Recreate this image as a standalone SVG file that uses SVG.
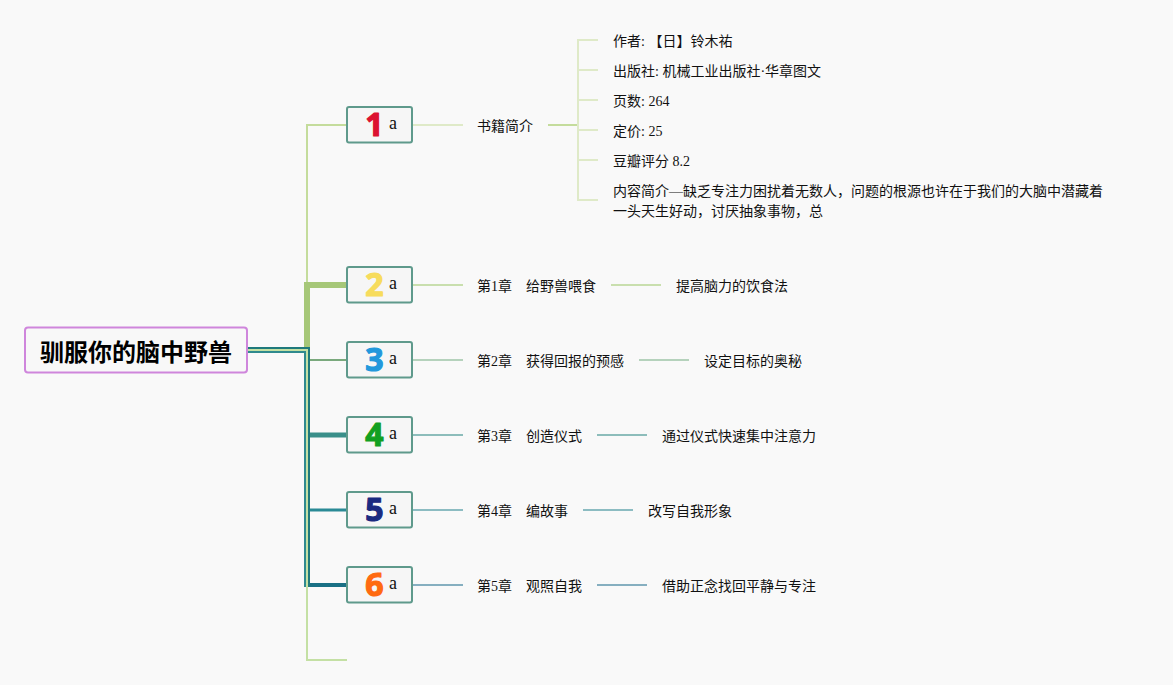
<svg xmlns="http://www.w3.org/2000/svg" width="1173" height="685" viewBox="0 0 1173 685">
<style>
text{font-family:"Liberation Serif","Noto Sans CJK SC",serif;font-size:14px;fill:#111}
.c{fill:none;stroke-linejoin:miter}
.box{fill:#f6f6f6;stroke:#5f9a8c;stroke-width:2}
.n{font-family:"Noto Sans","DejaVu Sans",sans-serif;font-size:32px;font-weight:700;text-anchor:middle;stroke-width:1.2;stroke-linejoin:round}
.a{font-size:18px}
</style>
<rect width="1173" height="685" fill="#f9f9f9"/>
<g id="connectors">
<path class="c" d="M307 349V125H347" stroke="#c4dc9c" stroke-width="2"/>
<path class="c" d="M307 347V285H347" stroke="#a6c778" stroke-width="6"/>
<path class="c" d="M309 360H347" stroke="#7aa97d" stroke-width="2"/>
<path class="c" d="M309 435H347" stroke="#3a8f8a" stroke-width="5"/>
<path class="c" d="M309 510H347" stroke="#2a8a96" stroke-width="3"/>
<path class="c" d="M309 585H347" stroke="#1a7085" stroke-width="4"/>
<path class="c" d="M248 352H305V587" stroke="#2f8a8e" stroke-width="2"/>
<path class="c" d="M248 350H307V660H347" stroke="#c4e0a4" stroke-width="2"/>
<path class="c" d="M248 348H309V587" stroke="#1f7a7c" stroke-width="2"/>
<path class="c" d="M413 125H463" stroke="#dfeac8" stroke-width="2"/>
<path class="c" d="M413 285H463" stroke="#c9dfae" stroke-width="2"/>
<path class="c" d="M413 360H463" stroke="#b5d2bc" stroke-width="2"/>
<path class="c" d="M413 435H463" stroke="#8dbdbb" stroke-width="2"/>
<path class="c" d="M413 510H463" stroke="#8cbcc2" stroke-width="2"/>
<path class="c" d="M413 585H463" stroke="#86afc0" stroke-width="2"/>
<path class="c" d="M548 125H578" stroke="#c4dc9c" stroke-width="2"/>
<path class="c" d="M598 40H578V200H598M578 70H598M578 100H598M578 130H598M578 160H598" stroke="#dfeac8" stroke-width="2"/>
<path class="c" d="M611 285H661" stroke="#c9dfae" stroke-width="2"/>
<path class="c" d="M639 360H689" stroke="#b5d2bc" stroke-width="2"/>
<path class="c" d="M597 435H647" stroke="#8dbdbb" stroke-width="2"/>
<path class="c" d="M583 510H633" stroke="#8cbcc2" stroke-width="2"/>
<path class="c" d="M597 585H647" stroke="#86afc0" stroke-width="2"/>
</g>
<g id="root"><rect x="25" y="327.500" width="222" height="45" rx="3" fill="#f8f8f8" stroke="#cf86dc" stroke-width="2"/><text x="136" y="361" text-anchor="middle" style="font-family:'Noto Sans CJK SC',sans-serif;font-size:24px;font-weight:700;fill:#000">驯服你的脑中野兽</text></g>
<g id="n1"><rect class="box" x="347" y="107" width="65" height="35.500" rx="2"/><text class="n" x="374.500" y="136" style="fill:#dc1230;stroke:#dc1230">1</text><text class="a" x="389" y="129">a</text></g>
<g id="n2"><rect class="box" x="347" y="267" width="65" height="35.500" rx="2"/><text class="n" x="374.500" y="296" style="fill:#f7dc5c;stroke:#f7dc5c">2</text><text class="a" x="389" y="289">a</text></g>
<g id="n3"><rect class="box" x="347" y="342" width="65" height="35.500" rx="2"/><text class="n" x="374.500" y="371" style="fill:#2298dc;stroke:#2298dc">3</text><text class="a" x="389" y="364">a</text></g>
<g id="n4"><rect class="box" x="347" y="417" width="65" height="35.500" rx="2"/><text class="n" x="374.500" y="446" style="fill:#12a020;stroke:#12a020">4</text><text class="a" x="389" y="439">a</text></g>
<g id="n5"><rect class="box" x="347" y="492" width="65" height="35.500" rx="2"/><text class="n" x="374.500" y="521" style="fill:#1a2a80;stroke:#1a2a80">5</text><text class="a" x="389" y="514">a</text></g>
<g id="n6"><rect class="box" x="347" y="567" width="65" height="35.500" rx="2"/><text class="n" x="374.500" y="596" style="fill:#ff6a10;stroke:#ff6a10">6</text><text class="a" x="389" y="589">a</text></g>
<g id="t0"><text x="477" y="131">书籍简介</text></g>
<g id="t1"><text x="613" y="46">作者: 【日】铃木祐</text></g>
<g id="t2"><text x="613" y="76">出版社: 机械工业出版社·华章图文</text></g>
<g id="t3"><text x="613" y="106">页数: 264</text></g>
<g id="t4"><text x="613" y="136">定价: 25</text></g>
<g id="t5"><text x="613" y="166">豆瓣评分 8.2</text></g>
<g id="t6"><text x="613" y="196">内容简介—缺乏专注力困扰着无数人，问题的根源也许在于我们的大脑中潜藏着</text><text x="613" y="216">一头天生好动，讨厌抽象事物，总</text></g>
<g id="c1"><text x="477" y="291">第1章 <tspan x="526">给野兽喂食</tspan></text></g>
<g id="c2"><text x="477" y="366">第2章 <tspan x="526">获得回报的预感</tspan></text></g>
<g id="c3"><text x="477" y="441">第3章 <tspan x="526">创造仪式</tspan></text></g>
<g id="c4"><text x="477" y="516">第4章 <tspan x="526">编故事</tspan></text></g>
<g id="c5"><text x="477" y="591">第5章 <tspan x="526">观照自我</tspan></text></g>
<g id="s1"><text x="676" y="291">提高脑力的饮食法</text></g>
<g id="s2"><text x="704" y="366">设定目标的奥秘</text></g>
<g id="s3"><text x="662" y="441">通过仪式快速集中注意力</text></g>
<g id="s4"><text x="648" y="516">改写自我形象</text></g>
<g id="s5"><text x="662" y="591">借助正念找回平静与专注</text></g>
</svg>
